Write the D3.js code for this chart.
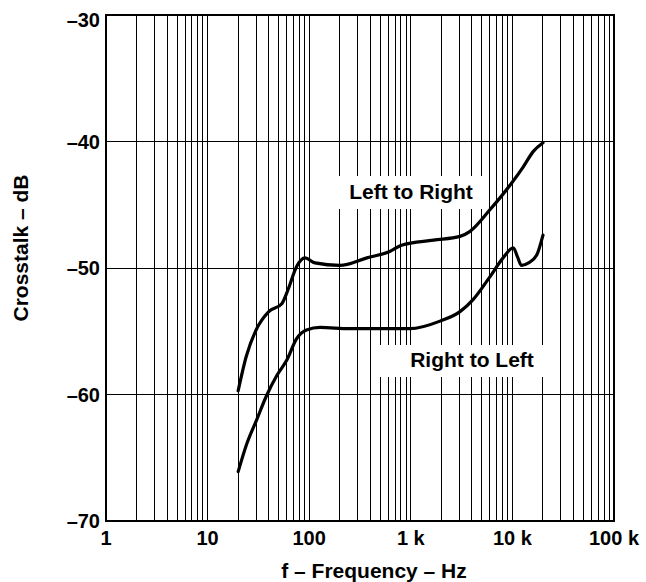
<!DOCTYPE html>
<meta charset="utf-8">
<style>
body { margin: 0; background: #fff; }
text { font-family: "Liberation Sans", Arial, sans-serif; font-weight: bold; fill: #000; }
.grid line { stroke: #000; stroke-width: 1; shape-rendering: crispEdges; }
.curve { fill: none; stroke: #000; stroke-width: 3.2; stroke-linejoin: round; stroke-linecap: round; }
</style>
<body>
<script src="https://cdn.jsdelivr.net/npm/d3@7/dist/d3.min.js"></script>
<script>

// Left to Right crosstalk (Hz, dB)
var ltrFreq = [20, 24, 30, 40, 54, 62, 75, 91, 114, 200, 370, 620, 810, 1670, 3050, 3830, 6000, 9800, 12800, 16000, 20000];
var ltrDb   = [-59.7, -57.0, -54.9, -53.45, -52.8, -51.7, -49.9, -49.2, -49.6, -49.8, -49.2, -48.7, -48.2, -47.8, -47.5, -47.1, -45.4, -43.3, -42.0, -40.8, -40.1];

// Right to Left crosstalk (Hz, dB)
var rtlFreq = [20, 24.3, 30.4, 38, 48, 60, 75, 94, 128, 250, 980, 1940, 3050, 4100, 6000, 8100, 10200, 11200, 12300, 14400, 17300, 20000];
var rtlDb   = [-66.1, -63.9, -62.0, -60.1, -58.5, -57.3, -55.6, -54.9, -54.7, -54.8, -54.8, -54.2, -53.45, -52.5, -50.7, -49.2, -48.4, -49.1, -49.8, -49.6, -49.0, -47.4];

var xTickVals = [1, 10, 100, 1000, 10000, 100000];
var xTickLabels = ["1", "10", "100", "1 k", "10 k", "100 k"];
var yTickVals = [-30, -40, -50, -60, -70];
var yTickLabels = ["\u201330", "\u201340", "\u201350", "\u201360", "\u201370"];

var W = 646, H = 582;
var pLeft = 106, pRight = 614, pTop = 15, pBottom = 521;

var x = d3.scaleLog().domain([1, 100000]).range([pLeft, pRight]);
var y = d3.scaleLinear().domain([-70, -30]).range([pBottom, pTop]);

var svg = d3.select("body").append("svg")
    .attr("width", W)
    .attr("height", H);

// grid
var grid = svg.append("g").attr("class", "grid");
grid.selectAll(".vg")
    .data(x.ticks())
  .enter().append("line")
    .attr("x1", function(d) { return x(d); })
    .attr("x2", function(d) { return x(d); })
    .attr("y1", pTop)
    .attr("y2", pBottom);
grid.selectAll(".hg")
    .data(y.ticks(4))
  .enter().append("line")
    .attr("x1", pLeft)
    .attr("x2", pRight)
    .attr("y1", function(d) { return y(d); })
    .attr("y2", function(d) { return y(d); });

// white boxes behind curve labels
svg.append("rect")
    .attr("x", 338).attr("y", 176)
    .attr("width", 148).attr("height", 33)
    .attr("fill", "#fff");
svg.append("rect")
    .attr("x", 380).attr("y", 345)
    .attr("width", 163).attr("height", 32)
    .attr("fill", "#fff");

// frame
svg.append("rect")
    .attr("x", pLeft).attr("y", pTop)
    .attr("width", pRight - pLeft).attr("height", pBottom - pTop)
    .attr("fill", "none")
    .attr("stroke", "#000")
    .attr("stroke-width", 2);

var line = d3.line()
    .x(function(d) { return x(d[0]); })
    .y(function(d) { return y(d[1]); })
    .curve(d3.curveMonotoneX);

svg.append("path")
    .attr("class", "curve")
    .attr("d", line(d3.zip(ltrFreq, ltrDb)));
svg.append("path")
    .attr("class", "curve")
    .attr("d", line(d3.zip(rtlFreq, rtlDb)));

// curve labels
svg.append("text")
    .attr("x", 411).attr("y", 199)
    .attr("text-anchor", "middle")
    .style("font-size", "21px")
    .text("Left to Right");
svg.append("text")
    .attr("x", 472).attr("y", 367)
    .attr("text-anchor", "middle")
    .style("font-size", "21px")
    .text("Right to Left");

// y tick labels
svg.selectAll(".ylab")
    .data(yTickVals)
  .enter().append("text")
    .attr("x", 100)
    .attr("y", function(d, i) { return i == 0 ? y(d) + 12 : y(d) + 7; })
    .attr("text-anchor", "end")
    .style("font-size", "20px")
    .text(function(d, i) { return yTickLabels[i]; });

// x tick labels
svg.selectAll(".xlab")
    .data(xTickVals)
  .enter().append("text")
    .attr("x", function(d) { return x(d); })
    .attr("y", 545)
    .attr("text-anchor", "middle")
    .style("font-size", "20px")
    .text(function(d, i) { return xTickLabels[i]; });

// axis titles
svg.append("text")
    .attr("x", 374).attr("y", 578)
    .attr("text-anchor", "middle")
    .style("font-size", "21px")
    .text("f \u2013 Frequency \u2013 Hz");

svg.append("text")
    .attr("transform", "translate(28,248) rotate(-90)")
    .attr("text-anchor", "middle")
    .style("font-size", "21px")
    .text("Crosstalk \u2013 dB");

</script>
</body>
